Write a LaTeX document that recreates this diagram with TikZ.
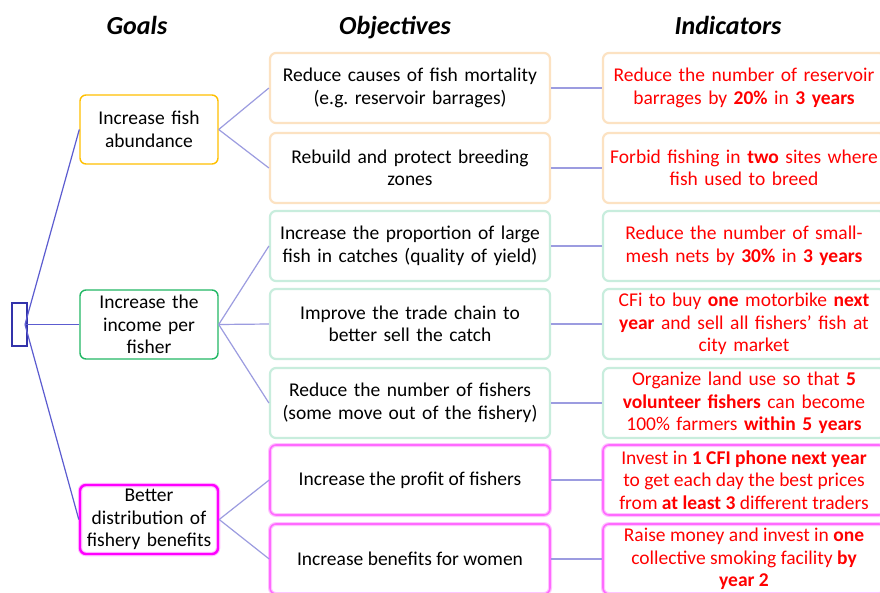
\documentclass[tikz,border=0pt]{standalone}
\usepackage{fontspec}
\setmainfont{Carlito}
\frenchspacing
\definecolor{goldc}{HTML}{FFC000}
\definecolor{greenc}{HTML}{22B865}
\definecolor{magc}{HTML}{FF00FF}
\definecolor{rootc}{HTML}{3333AA}
\definecolor{lineA}{HTML}{5C5CD0}
\definecolor{lineB}{HTML}{9C9CE0}
\definecolor{peach}{HTML}{FCE2C2}
\definecolor{mint}{HTML}{C8EDDD}
\definecolor{pinkc}{HTML}{FF6AFF}
\definecolor{pinkglow}{HTML}{FFC4FF}
\definecolor{redc}{HTML}{FF0000}
\begin{document}
\begin{tikzpicture}[x=1pt,y=-1pt,
  every node/.style={font=\fontsize{19.5}{22.5}\selectfont, inner sep=1pt},
  head/.style={font=\fontsize{26}{30}\selectfont\bfseries\itshape, anchor=base},
  goalbox/.style={draw, rounded corners=6pt, minimum width=138pt, minimum height=69pt, text width=136pt, align=center, line width=1.4pt},
  objbox/.style={rounded corners=6pt, minimum width=280pt, minimum height=70pt, text width=278pt, align=center, draw=#1, line width=2.2pt},
  indbox/.style={rounded corners=6pt, minimum width=282pt, minimum height=70pt, text width=280pt, align=center, draw=#1, line width=2.2pt, text=redc},
  pinkbox/.style={rounded corners=6pt, minimum width=280pt, minimum height=70pt, align=center, preaction={draw=pinkglow, line width=4pt}, draw=pinkc, line width=1.6pt},
  rootline/.style={draw=lineA, line width=1.2pt},
  subline/.style={draw=lineB, line width=1.2pt}
]
\useasboundingbox (0,0) rectangle (880,592);
\fill[white] (0,0) rectangle (880,592);

\node[head] (hg) at (137,34) {Goals};
\node[head] (ho) at (395,34) {Objectives};
\node[head] (hi) at (728,34) {Indicators};

\node[draw=rootc, line width=1.4pt, minimum width=15pt, minimum height=43pt, inner sep=0pt] (root) at (19.5,324.5) {};

\node[goalbox, draw=goldc] (g1) at (149,129.5) {Increase fish\\abundance};
\node[goalbox, draw=greenc] (g2) at (149,324.5) {Increase the\\income per\\fisher};
\node[goalbox, draw=magc, line width=2.4pt, preaction={draw=pinkglow, line width=4.5pt}] (g3) at (149,519.5) {Better\\distribution of\\fishery benefits};

\node[objbox=peach] (o1) at (410,88) {Reduce causes of fish mortality\\(e.g. reservoir barrages)};
\node[objbox=peach] (o2) at (410,168) {Rebuild and protect breeding\\zones};
\node[objbox=mint] (o3) at (410,246) {Increase the proportion of large\\fish in catches (quality of yield)};
\node[objbox=mint] (o4) at (410,324) {Improve the trade chain to\\better sell the catch};
\node[objbox=mint] (o5) at (410,403) {Reduce the number of fishers\\(some move out of the fishery)};
\node[pinkbox] (o6) at (410,480) {Increase the profit of fishers};
\node[pinkbox] (o7) at (410,559) {Increase benefits for women};

\node[indbox=peach] (i1) at (744,88) {Reduce the number of reservoir\\barrages by \textbf{20\%} in \textbf{3 years}};
\node[indbox=peach] (i2) at (744,168) {Forbid fishing in \textbf{two} sites where\\fish used to breed};
\node[indbox=mint] (i3) at (744,246) {Reduce the number of small-\\mesh nets by \textbf{30\%} in \textbf{3 years}};
\node[indbox=mint] (i4) at (744,324) {CFi to buy \textbf{one} motorbike \textbf{next}\\\textbf{year} and sell all fishers’ fish at\\city market};
\node[indbox=mint] (i5) at (744,403) {Organize land use so that \textbf{5}\\\textbf{volunteer fishers} can become\\100\% farmers \textbf{within 5 years}};
\node[pinkbox, text=redc, minimum width=282pt] (i6) at (744,480) {Invest in \textbf{1 CFI phone next year}\\to get each day the best prices\\from \textbf{at least 3} different traders};
\node[pinkbox, text=redc, minimum width=282pt] (i7) at (744,559) {Raise money and invest in \textbf{one}\\collective smoking facility \textbf{by}\\\textbf{year 2}};

\coordinate (rc) at (25,324.5);
\draw[rootline] (rc) -- (g1.west);
\draw[rootline] (rc) -- (g2.west);
\draw[rootline] (rc) -- (g3.west);

\draw[subline] (g1.east) -- (o1.west);
\draw[subline] (g1.east) -- (o2.west);
\draw[subline] (g2.east) -- (o3.west);
\draw[subline] (g2.east) -- (o4.west);
\draw[subline] (g2.east) -- (o5.west);
\draw[subline] (g3.east) -- (o6.west);
\draw[subline] (g3.east) -- (o7.west);

\draw[subline] (o1.east) -- (i1.west);
\draw[subline] (o2.east) -- (i2.west);
\draw[subline] (o3.east) -- (i3.west);
\draw[subline] (o4.east) -- (i4.west);
\draw[subline] (o5.east) -- (i5.west);
\draw[subline] (o6.east) -- (i6.west);
\draw[subline] (o7.east) -- (i7.west);
\end{tikzpicture}
\end{document}
